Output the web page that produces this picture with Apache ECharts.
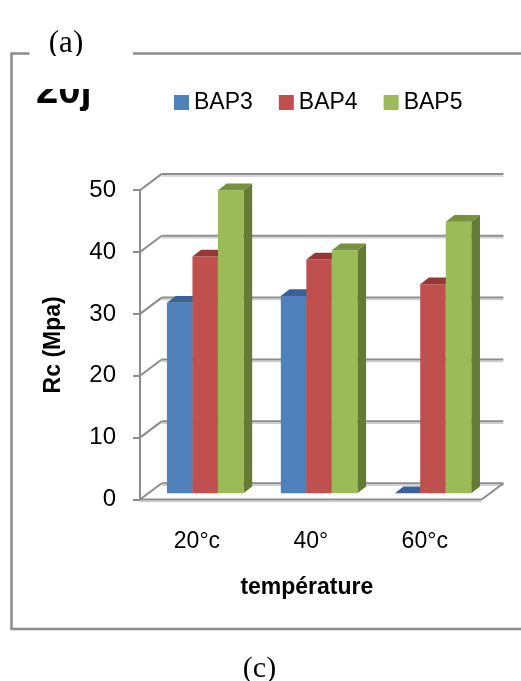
<!DOCTYPE html>
<html>
<head>
<meta charset="utf-8">
<script src="https://cdn.jsdelivr.net/npm/echarts@6/dist/echarts.min.js"></script>
<style>
  html, body { margin: 0; padding: 0; background: #ffffff; }
  #chart { width: 521px; height: 681px; }
</style>
</head>
<body>
<div id="chart"></div>
<script>
// Compressive strength by curing temperature
const categories = ['20°c', '40°', '60°c'];
const seriesNames = ['BAP3', 'BAP4', 'BAP5'];
const bap3 = [30.8, 31.9, 0];
const bap4 = [38.3, 37.8, 33.8];
const bap5 = [49.0, 39.3, 43.9];
const yTicks = [0, 10, 20, 30, 40, 50];

// face colours: front, side, top
const palette = [
  { front: '#4F81BD', side: '#3B6494', top: '#3A6195' },
  { front: '#C0504D', side: '#8E3B39', top: '#943735' },
  { front: '#9BBB59', side: '#637B33', top: '#76923C' }
];

// oblique projection offsets (pixels) for the pseudo-3D box
const WALL = { dx: 21.7, dy: -16.3 };     // floor front edge -> back wall
const BAR_FRONT = { dx: 8.25, dy: -6.2 }; // floor front edge -> bar front faces
const BAR_DEPTH = { dx: 8.7, dy: -6.7 };  // bar front face -> bar back face
const GRID_DARK = '#8c8c8c';
const GRID_LIGHT = '#cfcfcf';
const FONT = "'Liberation Sans', Arial, sans-serif";
const SERIF = "'Liberation Serif', 'Times New Roman', serif";

const chart = echarts.init(document.getElementById('chart'), null, { renderer: 'canvas' });

function wallRenderer(params, api) {
  const cs = params.coordSys;
  const v = api.value(0);
  const y = api.coord([0, v])[1];
  const xl = cs.x, xr = cs.x + cs.width;
  const yb = y + WALL.dy;
  const children = [
    { type: 'line', shape: { x1: xl, y1: y, x2: xl + WALL.dx, y2: yb },
      style: { stroke: GRID_DARK, lineWidth: 2 } },
    { type: 'line', shape: { x1: xl + WALL.dx, y1: yb + 2, x2: xr + WALL.dx, y2: yb + 2 },
      style: { stroke: GRID_LIGHT, lineWidth: 1.5 } },
    { type: 'line', shape: { x1: xl + WALL.dx, y1: yb, x2: xr + WALL.dx, y2: yb },
      style: { stroke: GRID_DARK, lineWidth: 2 } }
  ];
  if (v === 0) {
    // floor: right edge and front edge
    children.push(
      { type: 'line', shape: { x1: xr + WALL.dx, y1: yb, x2: xr, y2: y },
        style: { stroke: GRID_DARK, lineWidth: 2 } },
      { type: 'line', shape: { x1: xl, y1: y + 2, x2: xr, y2: y + 2 },
        style: { stroke: GRID_LIGHT, lineWidth: 1.5 } },
      { type: 'line', shape: { x1: xl, y1: y, x2: xr, y2: y },
        style: { stroke: GRID_DARK, lineWidth: 2 } }
    );
  }
  return { type: 'group', children: children };
}

function barRenderer(k) {
  return function (params, api) {
    const cat = api.value(0);
    const val = api.value(1);
    const catW = api.size([1, 0])[0];
    const barW = catW * 0.224;
    const base = api.coord([cat, 0]);
    const tip = api.coord([cat, val]);
    const x0 = base[0] - 1.5 * barW + k * barW + BAR_FRONT.dx;
    const x1 = x0 + barW;
    const yb = base[1] + BAR_FRONT.dy;
    const yt = tip[1] + BAR_FRONT.dy;
    const c = palette[k];
    const dx = BAR_DEPTH.dx, dy = BAR_DEPTH.dy;
    const children = [];
    if (yb - yt > 0.5) {
      children.push({
        type: 'polygon',
        shape: { points: [[x1, yt], [x1 + dx, yt + dy], [x1 + dx, yb + dy], [x1, yb]] },
        style: { fill: c.side }
      });
      children.push({
        type: 'rect',
        shape: { x: x0, y: yt, width: barW, height: yb - yt },
        style: { fill: c.front }
      });
    }
    children.push({
      type: 'polygon',
      shape: { points: [[x0, yt], [x0 + dx, yt + dy], [x1 + dx, yt + dy], [x1, yt]] },
      style: { fill: c.top }
    });
    return { type: 'group', children: children };
  };
}

const barData = [bap3, bap4, bap5];

const option = {
  animation: false,
  legend: {
    data: seriesNames,
    left: 174,
    top: 91,
    padding: 0,
    icon: 'rect',
    itemWidth: 15,
    itemHeight: 15,
    itemGap: 26,
    textStyle: { fontFamily: FONT, fontSize: 23, color: '#000' }
  },
  grid: {
    left: 140, top: 190.2, width: 341.7, height: 309.3,
    containLabel: false,
    outerBoundsMode: 'none'
  },
  xAxis: {
    type: 'category',
    data: categories,
    axisLine: { show: false },
    axisTick: { show: false },
    axisLabel: { margin: 31, fontFamily: FONT, fontSize: 23, color: '#000' },
    name: 'température',
    nameLocation: 'middle',
    nameGap: 77,
    nameTextStyle: { fontFamily: FONT, fontSize: 23, fontWeight: 'bold', color: '#000', padding: [0, 8, 0, 0] }
  },
  yAxis: {
    type: 'value',
    min: 0, max: 50, interval: 10,
    axisLine: { show: true, lineStyle: { color: GRID_DARK, width: 2 } },
    axisTick: { show: true, length: 7, lineStyle: { color: GRID_DARK, width: 2 } },
    splitLine: { show: false },
    axisLabel: { margin: 24, fontFamily: FONT, fontSize: 24, color: '#000' },
    name: 'Rc (Mpa)',
    nameLocation: 'middle',
    nameRotate: 90,
    nameGap: 75,
    nameTextStyle: { fontFamily: FONT, fontSize: 23, fontWeight: 'bold', color: '#000' }
  },
  series: [
    {
      type: 'custom',
      name: 'walls',
      silent: true,
      renderItem: wallRenderer,
      data: yTicks.map(v => [v]),
      encode: { y: 0 },
      itemStyle: { color: GRID_DARK },
      z: 1
    }
  ].concat(seriesNames.map((name, k) => ({
    type: 'custom',
    name: name,
    renderItem: barRenderer(k),
    data: categories.map((c, i) => [i, barData[k][i]]),
    encode: { x: 0, y: 1 },
    itemStyle: { color: palette[k].front },
    z: 2 + k
  }))),
  graphic: [
    // panel frame
    { type: 'polyline', shape: { points: [[29.5, 53.5], [11.5, 53.5], [11.5, 629], [521, 629]] },
      style: { stroke: GRID_DARK, lineWidth: 2.5, fill: null } },
    { type: 'line', shape: { x1: 133, y1: 53.5, x2: 521, y2: 53.5 },
      style: { stroke: GRID_DARK, lineWidth: 2.5 } },
    { type: 'text', x: 66, y: 44,
      style: { text: '(a)', font: '31px ' + SERIF, fill: '#000', align: 'center', verticalAlign: 'middle' } },
    { type: 'text', x: 259.5, y: 669,
      style: { text: '(c)', font: '30px ' + SERIF, fill: '#000', align: 'center', verticalAlign: 'middle' } },
    // chart title: only its lower part shows below the white band
    {
      type: 'group',
      children: [
        { type: 'text', x: 36, y: 92,
          style: { text: '20j', font: "bold 40px 'Liberation Sans', Arial, sans-serif", fill: '#000', align: 'left', verticalAlign: 'middle' } },
        { type: 'rect', shape: { x: 20, y: 56, width: 110, height: 33 },
          style: { fill: '#ffffff' } }
      ]
    }
  ]
};

chart.setOption(option);
</script>
</body>
</html>
